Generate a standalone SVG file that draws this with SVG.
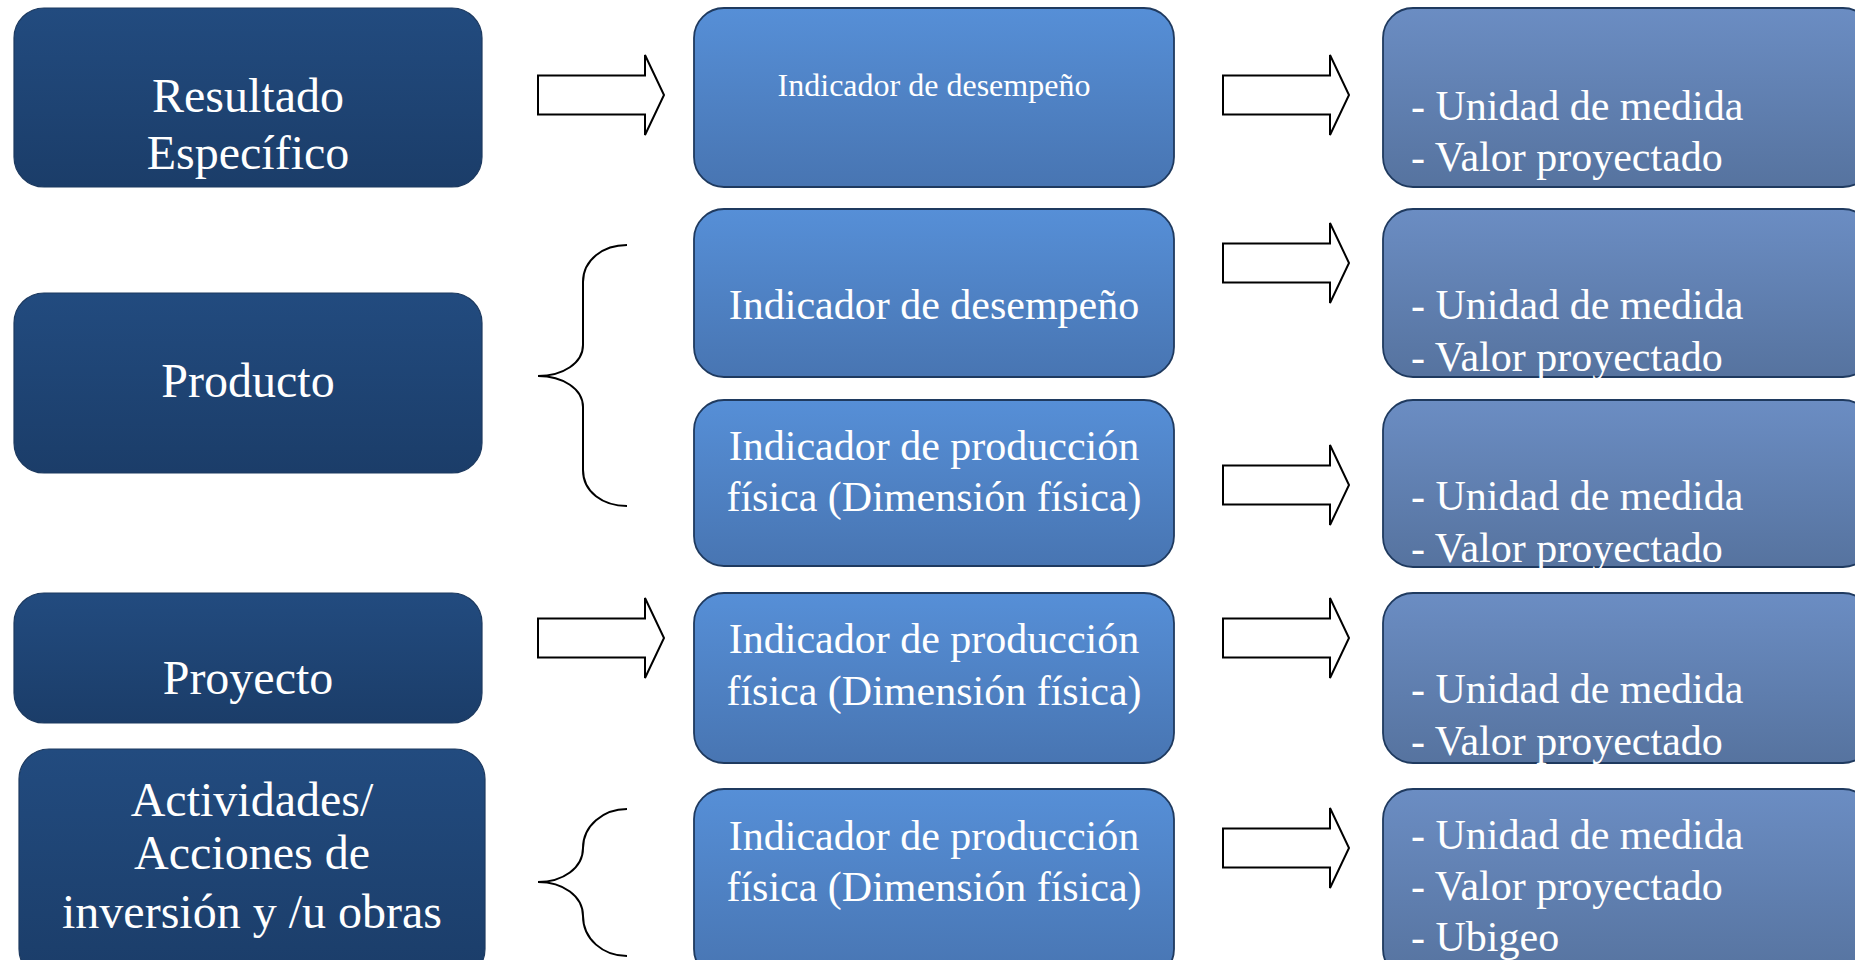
<svg xmlns="http://www.w3.org/2000/svg" width="1855" height="960" viewBox="0 0 1855 960">
  <defs>
    <linearGradient id="gDark" x1="0" y1="0" x2="0" y2="1">
      <stop offset="0" stop-color="#224b7f"/>
      <stop offset="1" stop-color="#1b3d69"/>
    </linearGradient>
    <linearGradient id="gMid" x1="0" y1="0" x2="0" y2="1">
      <stop offset="0" stop-color="#568fd7"/>
      <stop offset="1" stop-color="#4875b2"/>
    </linearGradient>
    <linearGradient id="gLight" x1="0" y1="0" x2="0" y2="1">
      <stop offset="0" stop-color="#6b8dc3"/>
      <stop offset="1" stop-color="#56739f"/>
    </linearGradient>
    <path id="arrowShape" d="M0,-19.5 L107,-19.5 L107,-40 L126,0 L107,40 L107,19.5 L0,19.5 Z"/>
  </defs>
  <style>
    .dark { fill: url(#gDark); stroke: #1d3a60; stroke-width: 1.2; }
    .mid { fill: url(#gMid); stroke: #1f3a5f; stroke-width: 1.8; }
    .light { fill: url(#gLight); stroke: #1f3a5f; stroke-width: 1.8; }
    .t { font-family: "Liberation Serif", "Times New Roman", serif; fill: #ffffff; }
    .c { text-anchor: middle; }
    .s48 { font-size: 48px; }
    .s43 { font-size: 42px; }
    .s32 { font-size: 32px; }
    .arrow { fill: #ffffff; stroke: #000000; stroke-width: 2; stroke-linejoin: miter; }
    .brace { fill: none; stroke: #000000; stroke-width: 2; }
  </style>
  <rect width="1855" height="960" fill="#ffffff"/>

  <!-- Column 1 -->
  <g id="resultado">
    <rect class="dark" x="14" y="8" width="468" height="179" rx="30"/>
    <text class="t c s48" x="248" y="112">Resultado</text>
    <text class="t c s48" x="248" y="169">Específico</text>
  </g>
  <g id="producto">
    <rect class="dark" x="14" y="293" width="468" height="180" rx="30"/>
    <text class="t c s48" x="248" y="397">Producto</text>
  </g>
  <g id="proyecto">
    <rect class="dark" x="14" y="593" width="468" height="130" rx="30"/>
    <text class="t c s48" x="248" y="694">Proyecto</text>
  </g>
  <g id="actividades">
    <rect class="dark" x="19" y="749" width="466" height="230" rx="30"/>
    <text class="t c s48" x="252" y="816">Actividades/</text>
    <text class="t c s48" x="252" y="869">Acciones de</text>
    <text class="t c s48" x="252" y="928">inversión y /u obras</text>
  </g>

  <!-- Column 2 -->
  <g id="ind-desempeno-1">
    <rect class="mid" x="694" y="8" width="480" height="179" rx="30"/>
    <text class="t c s32" x="934" y="96">Indicador de desempeño</text>
  </g>
  <g id="ind-desempeno-2">
    <rect class="mid" x="694" y="209" width="480" height="168" rx="30"/>
    <text class="t c s43" x="934" y="319">Indicador de desempeño</text>
  </g>
  <g id="ind-produccion-1">
    <rect class="mid" x="694" y="400" width="480" height="166" rx="30"/>
    <text class="t c s43" x="934" y="460">Indicador de producción</text>
    <text class="t c s43" x="934" y="511">física (Dimensión física)</text>
  </g>
  <g id="ind-produccion-2">
    <rect class="mid" x="694" y="593" width="480" height="170" rx="30"/>
    <text class="t c s43" x="934" y="653">Indicador de producción</text>
    <text class="t c s43" x="934" y="705">física (Dimensión física)</text>
  </g>
  <g id="ind-produccion-3">
    <rect class="mid" x="694" y="789" width="480" height="190" rx="30"/>
    <text class="t c s43" x="934" y="850">Indicador de producción</text>
    <text class="t c s43" x="934" y="901">física (Dimensión física)</text>
  </g>

  <!-- Column 3 -->
  <g id="medida-1">
    <rect class="light" x="1383" y="8" width="490" height="179" rx="30"/>
    <text class="t s43" x="1411" y="120">- Unidad de medida</text>
    <text class="t s43" x="1411" y="171">- Valor proyectado</text>
  </g>
  <g id="medida-2">
    <rect class="light" x="1383" y="209" width="490" height="168" rx="30"/>
    <text class="t s43" x="1411" y="319">- Unidad de medida</text>
    <text class="t s43" x="1411" y="371">- Valor proyectado</text>
  </g>
  <g id="medida-3">
    <rect class="light" x="1383" y="400" width="490" height="167" rx="30"/>
    <text class="t s43" x="1411" y="510">- Unidad de medida</text>
    <text class="t s43" x="1411" y="562">- Valor proyectado</text>
  </g>
  <g id="medida-4">
    <rect class="light" x="1383" y="593" width="490" height="170" rx="30"/>
    <text class="t s43" x="1411" y="703">- Unidad de medida</text>
    <text class="t s43" x="1411" y="755">- Valor proyectado</text>
  </g>
  <g id="medida-5">
    <rect class="light" x="1383" y="789" width="490" height="190" rx="30"/>
    <text class="t s43" x="1411" y="849">- Unidad de medida</text>
    <text class="t s43" x="1411" y="900">- Valor proyectado</text>
    <text class="t s43" x="1411" y="951">- Ubigeo</text>
  </g>

  <!-- Connectors -->
  <g id="connectors">
    <use href="#arrowShape" class="arrow" transform="translate(538,95)"/>
    <use href="#arrowShape" class="arrow" transform="translate(1223,95)"/>
    <use href="#arrowShape" class="arrow" transform="translate(1223,263)"/>
    <use href="#arrowShape" class="arrow" transform="translate(1223,485)"/>
    <use href="#arrowShape" class="arrow" transform="translate(538,638)"/>
    <use href="#arrowShape" class="arrow" transform="translate(1223,638)"/>
    <use href="#arrowShape" class="arrow" transform="translate(1223,848)"/>
    <path class="brace" d="M627,245 C603,245 583,260 583,282 L583,345 C583,363 563,376 538,376 C563,376 583,389 583,407 L583,470 C583,492 603,506 627,506"/>
    <path class="brace" d="M627,809 C603,809 583,826 583,848 C583,868 563,882 538,882 C563,882 583,896 583,916 C583,939 603,956 627,956"/>
  </g>
</svg>
